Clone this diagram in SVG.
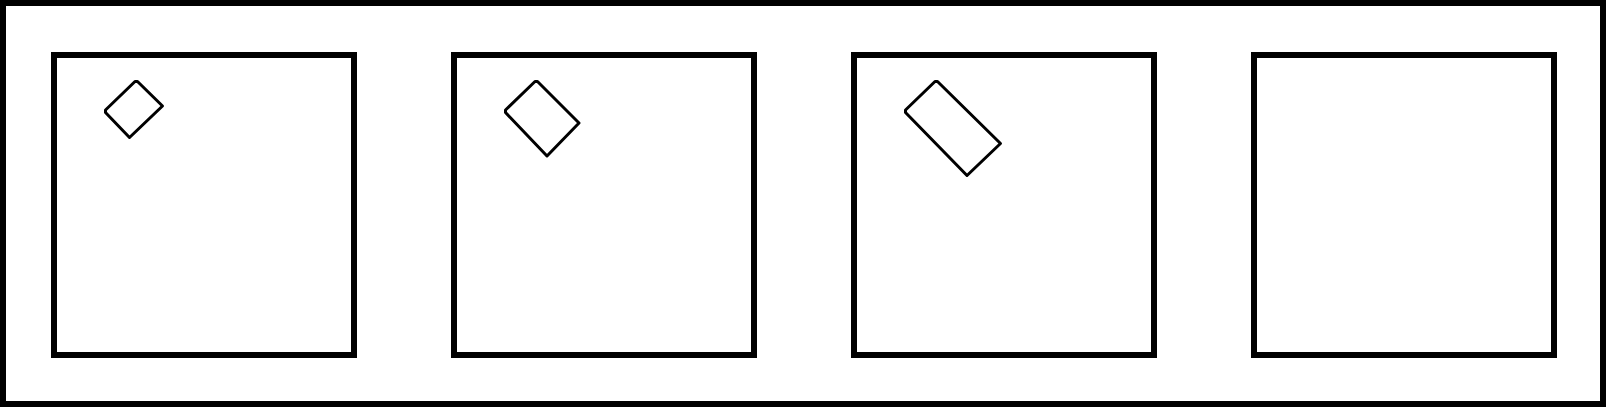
<svg xmlns="http://www.w3.org/2000/svg" width="1606" height="407" viewBox="0 0 1606 407">
<style>
.frame{fill:#fff;stroke:#000;stroke-width:6}
.box{fill:#fff;stroke:#000;stroke-width:6}
.shape{fill:#fff;stroke:#000;stroke-width:3;stroke-linejoin:round}
</style>
<rect width="1606" height="407" fill="#fff"/>
<rect id="frame" class="frame" x="3" y="3" width="1600" height="401"/>
<g id="panel1">
<rect class="box" x="54" y="55" width="300" height="300"/>
<polygon class="shape" points="105.5,110 135,81.5 137.5,81.5 162.5,106 129.5,137.5 105.5,112.5"/>
</g>
<g id="panel2">
<rect class="box" x="454" y="55" width="300" height="300"/>
<polygon class="shape" transform="translate(400,0)" points="105.5,110 135,81.5 137.5,81.5 179,123 147,156 105.5,112.5"/>
</g>
<g id="panel3">
<rect class="box" x="854" y="55" width="300" height="300"/>
<polygon class="shape" transform="translate(800,0)" points="105.5,110 135,81.5 137.5,81.5 200.5,143.5 167,175.5 105.5,112.5"/>
</g>
<g id="panel4">
<rect class="box" x="1254" y="55" width="300" height="300"/>
</g>
<g id="connectors"></g>
</svg>
